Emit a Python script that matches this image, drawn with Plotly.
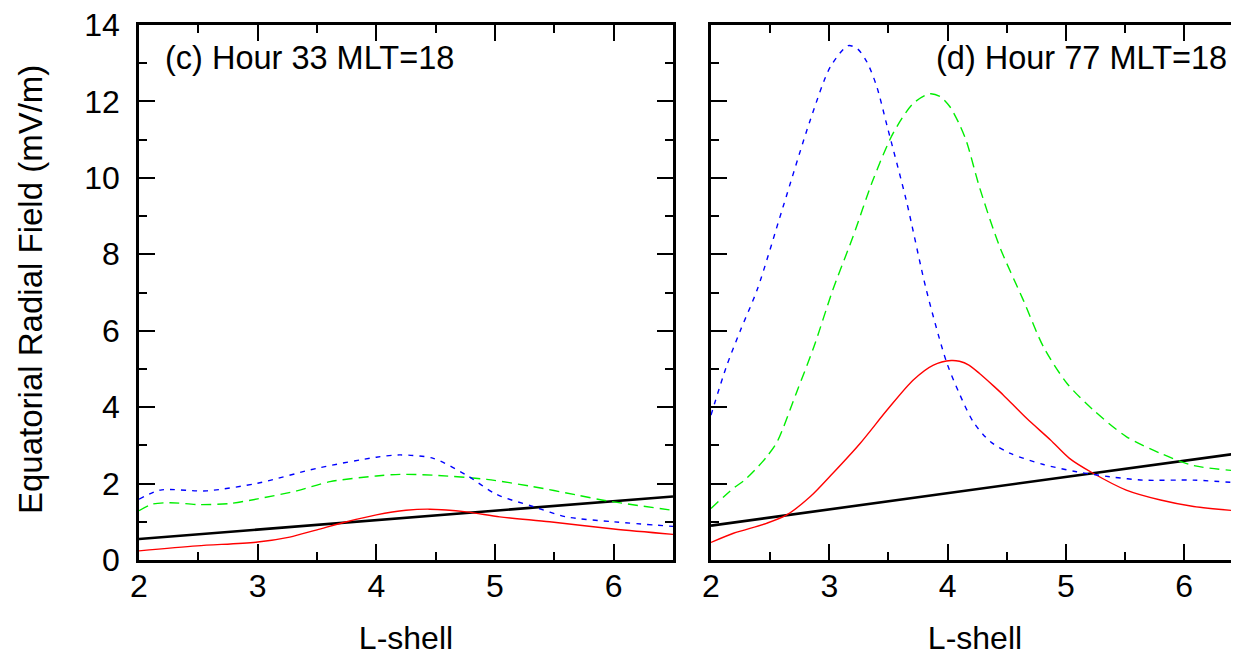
import plotly.graph_objects as go

# ---------------- data ----------------
# Panel (c) Hour 33 MLT=18
c_blue_x = [2.0, 2.18, 2.57, 3.0, 3.5, 4.0, 4.2, 4.48, 4.76, 5.01, 5.32, 5.6, 6.0, 6.5]
c_blue_y = [1.59, 1.83, 1.81, 2.01, 2.40, 2.69, 2.75, 2.66, 2.22, 1.72, 1.40, 1.13, 1.00, 0.88]
c_green_x = [2.0, 2.11, 2.26, 2.51, 2.77, 3.0, 3.33, 3.61, 4.0, 4.2, 4.48, 4.93, 5.32, 5.69, 5.94, 6.5]
c_green_y = [1.29, 1.46, 1.50, 1.45, 1.48, 1.60, 1.81, 2.05, 2.20, 2.24, 2.22, 2.11, 1.92, 1.70, 1.55, 1.30]
c_red_x = [2.0, 2.49, 3.0, 3.27, 3.5, 3.75, 4.0, 4.25, 4.45, 4.76, 5.04, 5.46, 6.0, 6.5]
c_red_y = [0.24, 0.37, 0.47, 0.60, 0.79, 1.00, 1.18, 1.30, 1.33, 1.26, 1.13, 1.00, 0.81, 0.67]
c_black_x = [2.0, 6.5]
c_black_y = [0.55, 1.66]

# Panel (d) Hour 77 MLT=18
d_blue_x = [2.0, 2.13, 2.25, 2.39, 2.61, 2.84, 3.01, 3.16, 3.24, 3.32, 3.40, 3.49, 3.65, 3.82,
            3.99, 4.10, 4.22, 4.36, 4.53, 4.81, 5.09, 5.37, 5.65, 6.08, 6.5]
d_blue_y = [3.79, 5.06, 6.02, 7.07, 9.25, 11.52, 12.91, 13.46, 13.37, 13.02, 12.40, 11.34, 9.42, 7.07,
            5.19, 4.35, 3.60, 3.10, 2.79, 2.50, 2.31, 2.18, 2.09, 2.09, 2.01]
d_green_x = [2.0, 2.19, 2.28, 2.37, 2.47, 2.56, 2.72, 2.87, 3.03, 3.20, 3.37, 3.54, 3.71, 3.85,
             3.94, 4.02, 4.10, 4.16, 4.27, 4.44, 4.64, 4.81, 5.01, 5.23, 5.51, 5.80, 6.08, 6.5]
d_green_y = [1.35, 1.88, 2.08, 2.35, 2.70, 3.10, 4.36, 5.58, 7.07, 8.46, 9.95, 11.17, 11.95, 12.20,
             12.12, 11.86, 11.40, 10.95, 9.75, 8.20, 6.80, 5.58, 4.62, 3.93, 3.23, 2.79, 2.47, 2.32]
d_red_x = [2.0, 2.19, 2.47, 2.64, 2.84, 3.03, 3.26, 3.49, 3.71, 3.88, 4.03, 4.10, 4.18, 4.27,
           4.39, 4.47, 4.67, 4.87, 5.03, 5.23, 5.51, 5.80, 6.08, 6.5]
d_red_y = [0.46, 0.70, 0.96, 1.18, 1.66, 2.27, 3.05, 3.93, 4.71, 5.10, 5.22, 5.20, 5.10, 4.88,
           4.55, 4.32, 3.70, 3.14, 2.66, 2.27, 1.83, 1.57, 1.40, 1.27]
d_black_x = [2.0, 6.5]
d_black_y = [0.90, 2.81]

x_ticks = [2, 3, 4, 5, 6]
y_ticks = [0, 2, 4, 6, 8, 10, 12, 14]

FONT = "Liberation Sans, Arial, Helvetica, sans-serif"
FS = 32
FS_TXT = 32.5

fig = go.Figure()

def add(x, y, color, dash, width, xa, ya):
    fig.add_trace(go.Scatter(x=x, y=y, mode="lines", xaxis=xa, yaxis=ya,
                             line=dict(color=color, dash=dash, width=width,
                                       shape="spline", smoothing=0.8),
                             showlegend=False, hoverinfo="skip"))

GREEN = "#00ee00"
BLUE = "#0000ff"
RED = "#ff0000"

add(c_black_x, c_black_y, "black", "solid", 2.6, "x", "y")
add(c_red_x, c_red_y, RED, "solid", 1.4, "x", "y")
add(c_green_x, c_green_y, GREEN, "10px,6px", 1.4, "x", "y")
add(c_blue_x, c_blue_y, BLUE, "5px,6px", 1.4, "x", "y")

add(d_black_x, d_black_y, "black", "solid", 2.6, "x2", "y2")
add(d_red_x, d_red_y, RED, "solid", 1.4, "x2", "y2")
add(d_green_x, d_green_y, GREEN, "10px,6px", 1.4, "x2", "y2")
add(d_blue_x, d_blue_y, BLUE, "5px,6px", 1.4, "x2", "y2")

# page body has an 8px margin; figure occupies screen px 8..1239, 8..656
OFF = 8
W, H = 1239 - OFF, 656 - OFF
L = 139 - OFF
T = 25 - OFF
B = H - (560 - OFF)
R = 0
pw = W - L - R
ph = H - T - B

def sx(p):  # screen x -> paper
    return (p - OFF - L) / pw

def sy(p):  # screen y -> paper
    return (H - B - (p - OFF)) / ph

xc_end = sx(673)
xd_start = sx(711)
d_range_end = 2 + (1239 - 711) / 118.3

common_x = dict(
    tickmode="array", tickvals=x_ticks, ticktext=[str(v) for v in x_ticks],
    ticks="inside", ticklen=16, tickwidth=2, tickcolor="black",
    minor=dict(ticks="inside", dtick=0.5, tick0=2, ticklen=8, tickwidth=2, tickcolor="black"),
    showline=True, linewidth=2.5, linecolor="black", mirror="ticks",
    showgrid=False, zeroline=False,
    tickfont=dict(family=FONT, size=FS, color="black"),
    title=dict(text="L-shell", font=dict(family=FONT, size=FS, color="black"), standoff=24),
    ticklabelstandoff=-4, ticklabeloverflow="allow",
)
common_y = dict(
    range=[0, 14], tickmode="array", tickvals=y_ticks, ticktext=[str(v) for v in y_ticks],
    ticks="inside", ticklen=16, tickwidth=2, tickcolor="black",
    minor=dict(ticks="inside", dtick=1, tick0=0, ticklen=8, tickwidth=2, tickcolor="black"),
    showline=True, linewidth=2.5, linecolor="black",
    showgrid=False, zeroline=False,
    tickfont=dict(family=FONT, size=FS, color="black"),
    ticklabeloverflow="allow",
)

fig.update_layout(
    width=W, height=H,
    margin=dict(l=L, r=R, t=T, b=B, pad=0, autoexpand=False),
    paper_bgcolor="white", plot_bgcolor="white",
    font=dict(family=FONT, size=FS, color="black"),
    xaxis=dict(common_x, domain=[0, xc_end], range=[2, 6.5], anchor="y"),
    yaxis=dict(common_y, domain=[0, 1], anchor="x", mirror="ticks", ticklabelstandoff=10),
    xaxis2=dict(common_x, domain=[xd_start, 1.0], range=[2, d_range_end], anchor="y2"),
    yaxis2=dict(common_y, domain=[0, 1], anchor="x2", mirror=False, showticklabels=False),
    yaxis3=dict(common_y, overlaying="y2", anchor="x2", side="right", showline=False,
                showticklabels=False),
    annotations=[
        dict(text="(c) Hour 33 MLT=18", xref="paper", yref="paper",
             x=sx(163), y=sy(58), xanchor="left", yanchor="middle",
             showarrow=False, font=dict(family=FONT, size=FS_TXT, color="black")),
        dict(text="(d) Hour 77 MLT=18", xref="paper", yref="paper",
             x=sx(1229), y=sy(58), xanchor="right", yanchor="middle",
             showarrow=False, font=dict(family=FONT, size=FS_TXT, color="black")),
        dict(text="Equatorial Radial Field (mV/m)", xref="paper", yref="paper",
             x=sx(30), y=sy(290), xanchor="center", yanchor="middle",
             textangle=-90, showarrow=False, font=dict(family=FONT, size=33, color="black")),
    ],
)

fig.write_html("out.html")
